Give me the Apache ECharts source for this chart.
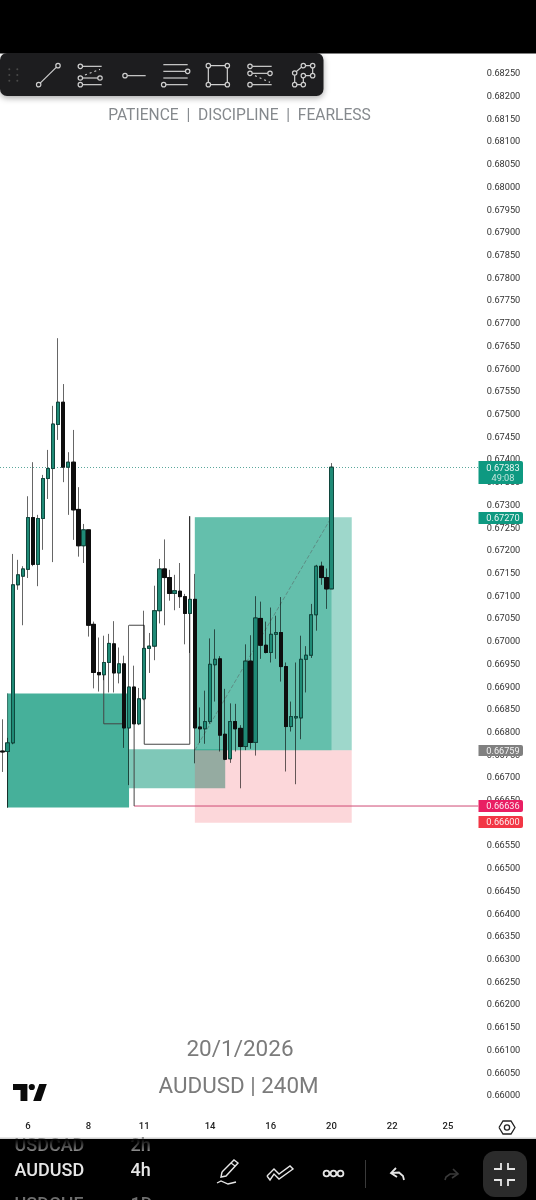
<!DOCTYPE html>
<html><head><meta charset="utf-8">
<style>html,body{margin:0;padding:0;background:#fff}#c{width:536px;height:1200px}</style>
<script src="https://cdn.jsdelivr.net/npm/echarts@6/dist/echarts.min.js"></script>
</head><body><div id="c"></div>
<script>
// Prices are quoted in 1e-5 units (66755 = 0.66755)
const opens =[66755,66754,66773,67121,67140,67155,67269,67166,67267,67355,67377,67474,67523,67380,67391,67287,67207,67242,67034,66928,66923,66950,66991,66927,66947,66806,66896,66815,66870,66981,66986,67064,67156,67137,67102,67107,67095,67058,67089,66808,66804,66820,66945,66958,66792,66738,66820,66805,66765,66953,66774,67047,66988,66972,67012,67016,66941,66809,66828,66828,66957,66966,67055,67162,67137,67112];
const closes=[66753,66773,67121,67143,67156,67269,67166,67267,67355,67377,67475,67523,67380,67391,67286,67207,67242,67032,66928,66923,66950,66992,66927,66947,66806,66896,66815,66870,66981,66986,67064,67156,67137,67102,67108,67095,67058,67089,66806,66804,66820,66946,66957,66790,66737,66820,66804,66765,66953,66774,67048,66988,66972,67012,67016,66941,66809,66831,66831,66957,66966,67055,67162,67137,67112,67380];
const lows  =[66709,66630,66770,67110,67032,67136,67162,67118,67198,67310,67171,67440,67347,67275,67220,67183,67169,67007,66893,66886,66911,66884,66884,66904,66762,66680,66815,66812,66867,66927,66955,67036,67032,67086,67065,67070,66990,66971,66728,66773,66771,66815,66864,66754,66735,66729,66754,66673,66757,66760,66745,66958,66970,66950,66958,66908,66710,66798,66682,66781,66884,66960,67020,67121,67068,67112];
const highs =[66825,66784,67189,67176,67162,67316,67391,67275,67363,67418,67515,67664,67563,67413,67462,67336,67255,67242,67040,67005,67009,67013,67041,66983,66965,67032,66943,66894,67064,67015,67119,67178,67221,67154,67143,67169,67101,67272,67145,66851,66888,67003,67023,66964,66892,66860,66859,66812,66990,67010,67096,67084,67040,67071,67053,67094,66950,66864,66950,67009,66986,67079,67165,67172,67157,67389];
const barCount = 95;
const tickIndex  = [5,17,28,41,53,65,77,88];
const tickLabels = ['6','8','11','14','16','20','22','25'];
const priceMin = 0.66, priceMax = 0.6825, priceStep = 0.0005;

// Drawn tools: [fromBar, toBar, priceA, priceB]
const demandZone   = [1,25,66882,66631];
const fvgZone      = [25,44,66759,66673];
const targetZone   = [38,69,67270,66757];
const targetFilled = [38,65,67270,66757];
const stopZone     = [38,69,66757,66597];
const legA = [[20,66923],[20,66815],[24,66815]];
const legB = [[25,67032],[28,67032],[28,66770],[37,66770],[37,67272]];
const legC = [[26,66815],[26,66634]];
const legEdge = [[1,66882],[1,66631]];
const legTrade = [[38,66757],[65,67270]];
const legSweep = [[26,66634],[94,66634]];
const lastPrice = 67380;

const priceTags = [
 {text:'0.67383\n49:08',fill:'#0e9981',y0:461,y1:484},
 {text:'0.67270',fill:'#0e9981',y0:512,y1:524},
 {text:'0.66759',fill:'#808080',y0:745,y1:756},
 {text:'0.66636',fill:'#e91e63',y0:800,y1:812},
 {text:'0.66600',fill:'#f23645',y0:816,y1:828}
];

const P = v => v/1e5;
const cats = Array.from({length:barCount},(_,i)=>String(i));
const cats2 = cats.map(i=>{const k=tickIndex.indexOf(+i);return k>=0?tickLabels[k]:''});
const full = opens.map((o,i)=>[P(o),P(closes[i]),P(lows[i]),P(highs[i])]);
const bodies = opens.map((o,i)=>[P(o),P(closes[i]),P(Math.min(o,closes[i])),P(Math.max(o,closes[i]))]);

function zone(z,fill,zv){
  return {type:'custom',z:zv,silent:true,clip:true,
    data:[[z[0],z[1],P(z[2]),P(z[3])]],
    encode:{x:[0,1],y:[2,3]},
    renderItem:(p,api)=>{
      const a=api.coord([api.value(0),api.value(2)]),b=api.coord([api.value(1),api.value(3)]);
      return {type:'rect',shape:{x:a[0],y:a[1],width:b[0]-a[0],height:b[1]-a[1]},style:{fill}};
    }};
}
function leg(pts,color,type,width){
  return {type:'line',z:3,silent:true,symbol:'none',animation:false,
    data:pts.map(p=>[p[0],P(p[1])]),
    lineStyle:{color,width:width||1,type:type||'solid'}};
}

// ---- chrome graphics
const G=[];
const wh='#cfcfcf';
function line(pts,color,w,dash,z){G.push({type:'polyline',z:z||50,shape:{points:pts},style:{stroke:color||wh,lineWidth:w||1.2,fill:null,lineDash:dash||null}})}
function circ(x,y,r,color,fill,w){G.push({type:'circle',z:51,shape:{cx:x,cy:y,r},style:{stroke:color||wh,lineWidth:w||1.2,fill:fill===undefined?'#1d1d1f':fill}})}
function rect(x,y,w,h,fill,r,extra,z){G.push({type:'rect',z:z||45,shape:{x,y,width:w,height:h,r:r||0},style:Object.assign({fill},extra||{})})}
function txt(s,x,y,size,color,align,weight,z){G.push({type:'text',z:z||60,style:{text:s,x,y,fontSize:size,fontFamily:'Roboto',fill:color,align:align||'left',verticalAlign:'middle',fontWeight:weight||400}})}
const tx=v=>v/3, ty=v=>40+v/3;
const tl=(a,b,c,d,dash)=>line([[tx(a),ty(b)],[tx(c),ty(d)]],wh,1.2,dash);
const tc=(a,b)=>circ(tx(a),ty(b),2.2);

// top
rect(0,0,536,53.5,'#000');
rect(0,53,323.5,43,'#1d1d1f',7,{shadowBlur:6,shadowColor:'rgba(0,0,0,.35)',shadowOffsetY:2},46);
[[9.3,69.3],[17.3,69.3],[9.3,75],[17.3,75],[9.3,80.7],[17.3,80.7]].forEach(d=>G.push({type:'circle',z:51,shape:{cx:d[0],cy:d[1],r:1},style:{fill:'#4a4a4a'}}));
tl(116,134,174,77);tc(116,134);tc(174,77);
tl(241,79,305,79);tl(255,105,300,88,[2,3]);tl(241,114,300,114);tl(241,134,305,134);tc(241,79);tc(241,114);tc(300,114);tc(241,134);
tl(375,107,437,107);tc(375,107);
tl(490,74,563,74);tl(490,94,557,94);tl(490,114,563,114);tl(491,134,563,134);tc(563,94);tc(491,134);
line([[tx(625),ty(77)],[tx(682),ty(77)],[tx(682),ty(134)],[tx(625),ty(134)],[tx(625),ty(77)]]);tc(625,77);tc(682,77);tc(625,134);tc(682,134);
tl(750,79,815,79);tl(750,100,805,100);tl(765,107,810,127,[2,3]);tl(750,134,815,134);tc(750,79);tc(750,100);tc(810,100);tc(750,134);
line([[884,99],[910,77],[938,77],[938,107],[910,107],[910,134],[884,134],[884,99]].map(p=>[tx(p[0]),ty(p[1])]));
[[884,99],[910,77],[938,77],[938,107],[910,107],[910,134],[884,134]].forEach(p=>tc(p[0],p[1]));

txt('PATIENCE  |  DISCIPLINE  |  FEARLESS',239.5,116.5,15.6,'#85898d','center');
txt('20/1/2026',240,1050,22.5,'#7b7b7b','center');
txt('AUDUSD | 240M',238.5,1087,22.4,'#7b7b7b','center');

// TV logo
G.push({type:'polygon',z:50,shape:{points:[[13,1084],[27.4,1084],[27.4,1101],[20.5,1101],[20.5,1090],[13,1090]]},style:{fill:'#0a0a0a'}});
G.push({type:'circle',z:50,shape:{cx:31.8,cy:1087,r:3.1},style:{fill:'#0a0a0a'}});
G.push({type:'polygon',z:50,shape:{points:[[33.2,1101],[39.3,1084],[46.8,1084],[41,1101]]},style:{fill:'#0a0a0a'}});

// settings hexagon
line([[499,1127.5],[503,1121],[511,1121],[515,1127.5],[511,1134],[503,1134],[499,1127.5]],'#222',1.3);
circ(507,1127.5,2.6,'#222','#fff',1.3);

// price tags
priceTags.forEach(t=>{
  rect(478.5,t.y0,44.5,t.y1-t.y0,t.fill,[0,2,2,0],null,55);
  if(t.text.includes('\n')){
    const a=t.text.split('\n');
    txt(a[0],503,t.y0+7.5,9.2,'#e8f6f2','center',400,56);
    txt(a[1],503,t.y0+18,9.2,'#bfe6dc','center',400,56);
  } else txt(t.text,503,(t.y0+t.y1)/2+1,9.2,'rgba(255,255,255,.9)','center',400,56);
});

// bottom bar
rect(0,1139,536,61,'#000');
rect(0,1137.6,536,1.4,'#cfcfcf',0,null,46);
txt('USDCAD',14.5,1146,18,'#8a8a8a','left',500);
txt('2h',130.5,1146,18,'#8a8a8a','left',500);
txt('AUDUSD',14.5,1171,18,'#e6e6e6','left',500);
txt('4h',130.5,1171,18,'#e6e6e6','left',500);
txt('USDCHF',14.5,1205,18,'#6e6e6e','left',500);
txt('1D',130.5,1205,18,'#6e6e6e','left',500);
G.push({type:'rect',z:61,shape:{x:0,y:1139,width:200,height:11},style:{fill:{type:'linear',x:0,y:0,x2:0,y2:1,colorStops:[{offset:0,color:'rgba(0,0,0,1)'},{offset:1,color:'rgba(0,0,0,.15)'}]}}});

const bw='#e6e6e6';
// pencil
line([[222,1172],[234,1160],[238,1163],[226,1176],[221,1177],[222,1172]],bw,1.4);
line([[231,1163],[235,1166]],bw,1.2);
line([[217,1183],[221,1181],[228,1184],[236,1182]],bw,1.3);
// zigzag double
line([[267,1176],[274,1169],[279,1174],[290,1166],[293,1169],[279,1179],[274,1174],[270,1180],[267,1176]],bw,1.4);
// three dots
circ(326.5,1173.5,2.9,bw,'#000',1.8);circ(333.5,1173.5,2.9,bw,'#000',1.8);circ(340.5,1173.5,2.9,bw,'#000',1.8);
// divider
line([[365.5,1160],[365.5,1188]],'#3a3a3a',1);
// undo
line([[396,1168],[391,1173],[397,1177]],bw,1.8);
line([[391.5,1173],[399,1172.5],[403,1176],[404,1180]],bw,1.8);
// redo
line([[453,1169],[458,1174],[452,1178]],'#3a3a3a',1.6);
line([[457.5,1174],[450,1174],[446,1177],[445,1180]],'#3a3a3a',1.6);
// button
rect(483,1151,44,46,'#2b2b2b',12,null,47);
line([[501,1163],[501,1169],[494,1169]],bw,1.8);
line([[508,1163],[508,1169],[515,1169]],bw,1.8);
line([[494,1180],[501,1180],[501,1186]],bw,1.8);
line([[515,1180],[508,1180],[508,1186]],bw,1.8);

const chart = echarts.init(document.getElementById('c'),null,{renderer:'canvas',width:536,height:1200});
chart.setOption({
  animation:false,backgroundColor:'#fff',
  grid:{left:0,top:72,width:480.8,height:1022,containLabel:false},
  xAxis:{type:'category',data:cats2,boundaryGap:true,
    axisLine:{show:false},axisTick:{show:false},splitLine:{show:false},
    axisLabel:{interval:i=>tickIndex.includes(i),margin:28,fontSize:9.5,color:'#222',fontFamily:'Roboto',fontWeight:500,hideOverlap:false}},
  yAxis:{type:'value',position:'right',min:priceMin,max:priceMax,interval:priceStep,scale:true,
    axisLine:{show:false},axisTick:{show:false},splitLine:{show:false},
    axisLabel:{margin:6,fontSize:9.2,color:'#333',fontFamily:'Roboto',verticalAlign:'top',lineHeight:4,formatter:v=>v.toFixed(5)}},
  series:[
    zone(demandZone,'rgba(24,156,129,.8)',1),
    zone(fvgZone,'rgba(22,155,126,.55)',1),
    zone(targetZone,'rgba(12,155,125,.4)',1),
    zone(targetFilled,'rgba(12,155,125,.4)',1),
    zone(stopZone,'rgba(242,54,69,.2)',1),
    leg(legEdge,'#2f6f63'),
    leg(legTrade,'rgba(90,120,115,.7)','dashed'),
    {type:'line',z:2,silent:true,symbol:'none',data:[],
      markLine:{silent:true,symbol:'none',precision:5,label:{show:false},animation:false,
        data:[{yAxis:P(lastPrice),lineStyle:{color:'#5aa79b',type:[1,2],width:1}}]}},
    leg(legSweep,'#cf4a74'),
    leg(legA,'#444'),leg(legB,'#444'),leg(legC,'#444'),
    {type:'candlestick',z:4,silent:true,barWidth:3.8,data:full,
      itemStyle:{color:'rgba(0,0,0,.6)',color0:'rgba(0,0,0,.6)',borderColor:'rgba(0,0,0,.6)',borderColor0:'rgba(0,0,0,.6)',borderColorDoji:'rgba(0,0,0,.6)',borderWidth:1}},
    {type:'candlestick',z:5,silent:true,barWidth:3.8,data:bodies,
      itemStyle:{color:'#1f8a76',color0:'#0e0e0e',borderColor:'#10483e',borderColor0:'#0e0e0e',borderColorDoji:'#10483e',borderWidth:1}}
  ],
  graphic:{elements:G}
});
</script></body></html>
